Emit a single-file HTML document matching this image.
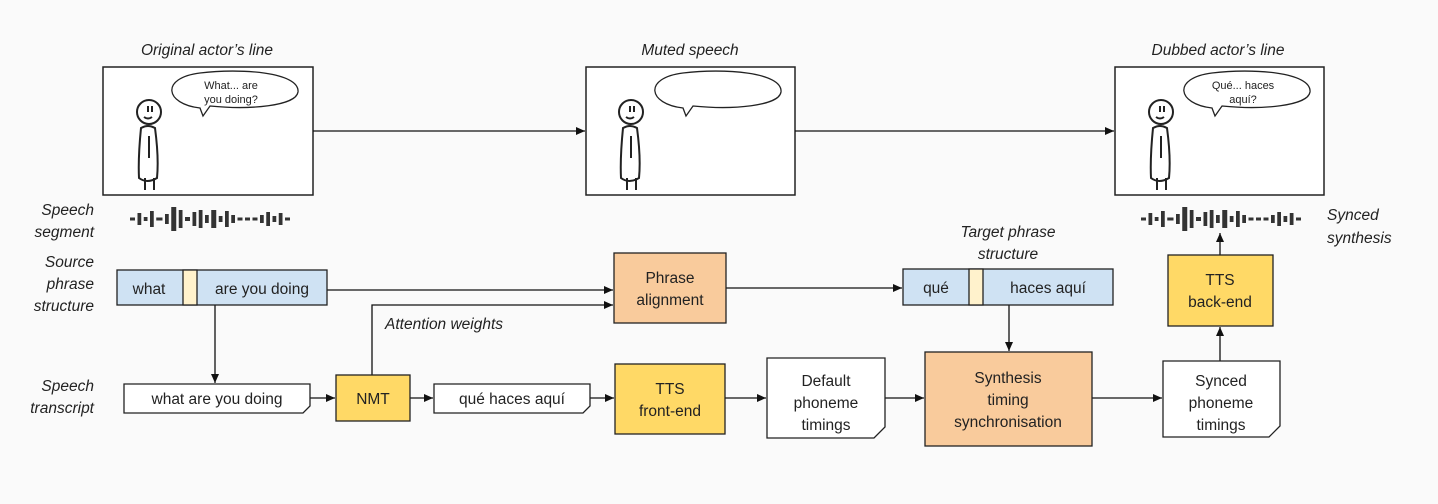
<!DOCTYPE html><html><head><meta charset="utf-8"><style>body{margin:0;background:#fafafa}svg{display:block}text{font-family:"Liberation Sans",sans-serif;fill:#222}</style></head><body>
<svg width="1438" height="504" viewBox="0 0 1438 504" xmlns="http://www.w3.org/2000/svg">
<defs><marker id="a" markerWidth="10" markerHeight="10" refX="9" refY="5" orient="auto" markerUnits="userSpaceOnUse"><path d="M0,1 L9,5 L0,9 z" fill="#111"/></marker>
<g id="fig" fill="none" stroke="#222" stroke-width="2"><circle cx="0" cy="0" r="12"/><path d="M-1,-6 v6 M3,-6 v6 M-5,5 q4,3 8,0"/><path d="M-8,16 q-3,30 -2,50 q8,6 18,0 q2,-20 -2,-50 q-7,-4 -14,0z"/><path d="M0,24 v22 M-4,66 v12 M5,66 v12"/></g>
<g id="wv" fill="#333"><rect x="0" y="-1.5" width="4" height="3"/><rect x="6" y="-6" width="3" height="12"/><rect x="11" y="-2" width="3" height="4"/><rect x="16" y="-8" width="3" height="16"/><rect x="21" y="-1.5" width="5" height="3"/><rect x="28" y="-5" width="3" height="10"/><rect x="33" y="-12" width="4" height="24"/><rect x="39" y="-9" width="3" height="18"/><rect x="44" y="-2" width="4" height="4"/><rect x="50" y="-7" width="3" height="14"/><rect x="55" y="-9" width="3" height="18"/><rect x="60" y="-4" width="3" height="8"/><rect x="65" y="-9" width="4" height="18"/><rect x="71" y="-3" width="3" height="6"/><rect x="76" y="-8" width="3" height="16"/><rect x="81" y="-4" width="3" height="8"/><rect x="86" y="-1.5" width="4" height="3"/><rect x="92" y="-1.5" width="4" height="3"/><rect x="98" y="-1.5" width="4" height="3"/><rect x="104" y="-4" width="3" height="8"/><rect x="109" y="-7" width="3" height="14"/><rect x="114" y="-3" width="3" height="6"/><rect x="119" y="-6" width="3" height="12"/><rect x="124" y="-1.5" width="4" height="3"/></g></defs>
<g font-size="15.5" font-style="italic" text-anchor="middle"><text x="207" y="55">Original actor’s line</text><text x="690" y="55">Muted speech</text><text x="1218" y="55">Dubbed actor’s line</text></g>
<g fill="#fff" stroke="#222" stroke-width="1.5"><rect x="103" y="67" width="210" height="128"/><rect x="586" y="67" width="209" height="128"/><rect x="1115" y="67" width="209" height="128"/></g>
<use href="#fig" x="149" y="112"/><use href="#fig" x="631" y="112"/><use href="#fig" x="1161" y="112"/>
<g fill="#fff" stroke="#222" stroke-width="1.3"><path d="M200,108 C165,104 160,78 200,73 C240,68 300,72 298,92 C296,106 250,110 210,106 L203,116 z"/><path d="M683,108 C648,104 643,78 683,73 C723,68 783,72 781,92 C779,106 733,110 693,106 L686,116 z"/><path d="M1212,108 C1177,104 1172,78 1212,73 C1252,68 1312,72 1310,92 C1308,106 1262,110 1222,106 L1215,116 z"/></g>
<g font-size="11" text-anchor="middle"><text x="231" y="89">What... are</text><text x="231" y="103">you doing?</text><text x="1243" y="89">Qué... haces</text><text x="1243" y="103">aquí?</text></g>
<g stroke="#111" stroke-width="1.3" fill="none" marker-end="url(#a)"><path d="M313,131 H585"/><path d="M795,131 H1114"/><path d="M327,290 H613"/><path d="M372,375 V305 H613"/><path d="M726,288 H902"/><path d="M1009,305 V351"/><path d="M215,305 V383"/><path d="M310,398 H335"/><path d="M410,398 H433"/><path d="M590,398 H614"/><path d="M725,398 H766"/><path d="M885,398 H924"/><path d="M1092,398 H1162"/><path d="M1220,361 V327"/><path d="M1220,255 V233"/></g>
<use href="#wv" transform="translate(130,219) scale(1.25,1)"/><use href="#wv" transform="translate(1141,219) scale(1.25,1)"/>
<g font-size="15.5" font-style="italic" text-anchor="end"><text x="94" y="215">Speech</text><text x="94" y="237">segment</text><text x="94" y="267">Source</text><text x="94" y="289">phrase</text><text x="94" y="311">structure</text><text x="94" y="391">Speech</text><text x="94" y="413">transcript</text></g>
<g font-size="15.5" font-style="italic"><text x="385" y="329">Attention weights</text><text x="1008" y="237" text-anchor="middle">Target phrase</text><text x="1008" y="259" text-anchor="middle">structure</text><text x="1327" y="220">Synced</text><text x="1327" y="243">synthesis</text></g>
<g stroke="#222" stroke-width="1.3"><rect x="117" y="270" width="210" height="35" fill="#cfe2f3"/><rect x="183" y="270" width="14" height="35" fill="#fff2cc"/><rect x="903" y="269" width="210" height="36" fill="#cfe2f3"/><rect x="969" y="269" width="14" height="36" fill="#fff2cc"/>
<rect x="614" y="253" width="112" height="70" fill="#f9cb9c"/><rect x="925" y="352" width="167" height="94" fill="#f9cb9c"/><rect x="336" y="375" width="74" height="46" fill="#ffd966"/><rect x="615" y="364" width="110" height="70" fill="#ffd966"/><rect x="1168" y="255" width="105" height="71" fill="#ffd966"/>
<path d="M124,384 H310 V406 L303,413 H124 Z" fill="#fff"/><path d="M434,384 H590 V406 L583,413 H434 Z" fill="#fff"/><path d="M767,358 H885 V427 L874,438 H767 Z" fill="#fff"/><path d="M1163,361 H1280 V426 L1269,437 H1163 Z" fill="#fff"/></g>
<g font-size="15.5" text-anchor="middle"><text x="149" y="294">what</text><text x="262" y="294">are you doing</text><text x="936" y="293">qué</text><text x="1048" y="293">haces aquí</text>
<text x="670" y="283">Phrase</text><text x="670" y="305">alignment</text><text x="373" y="404">NMT</text><text x="217" y="404">what are you doing</text><text x="512" y="404">qué haces aquí</text>
<text x="670" y="394">TTS</text><text x="670" y="416">front-end</text><text x="826" y="386">Default</text><text x="826" y="408">phoneme</text><text x="826" y="430">timings</text>
<text x="1008" y="383">Synthesis</text><text x="1008" y="405">timing</text><text x="1008" y="427">synchronisation</text><text x="1221" y="386">Synced</text><text x="1221" y="408">phoneme</text><text x="1221" y="430">timings</text>
<text x="1220" y="285">TTS</text><text x="1220" y="307">back-end</text></g>
</svg></body></html>
